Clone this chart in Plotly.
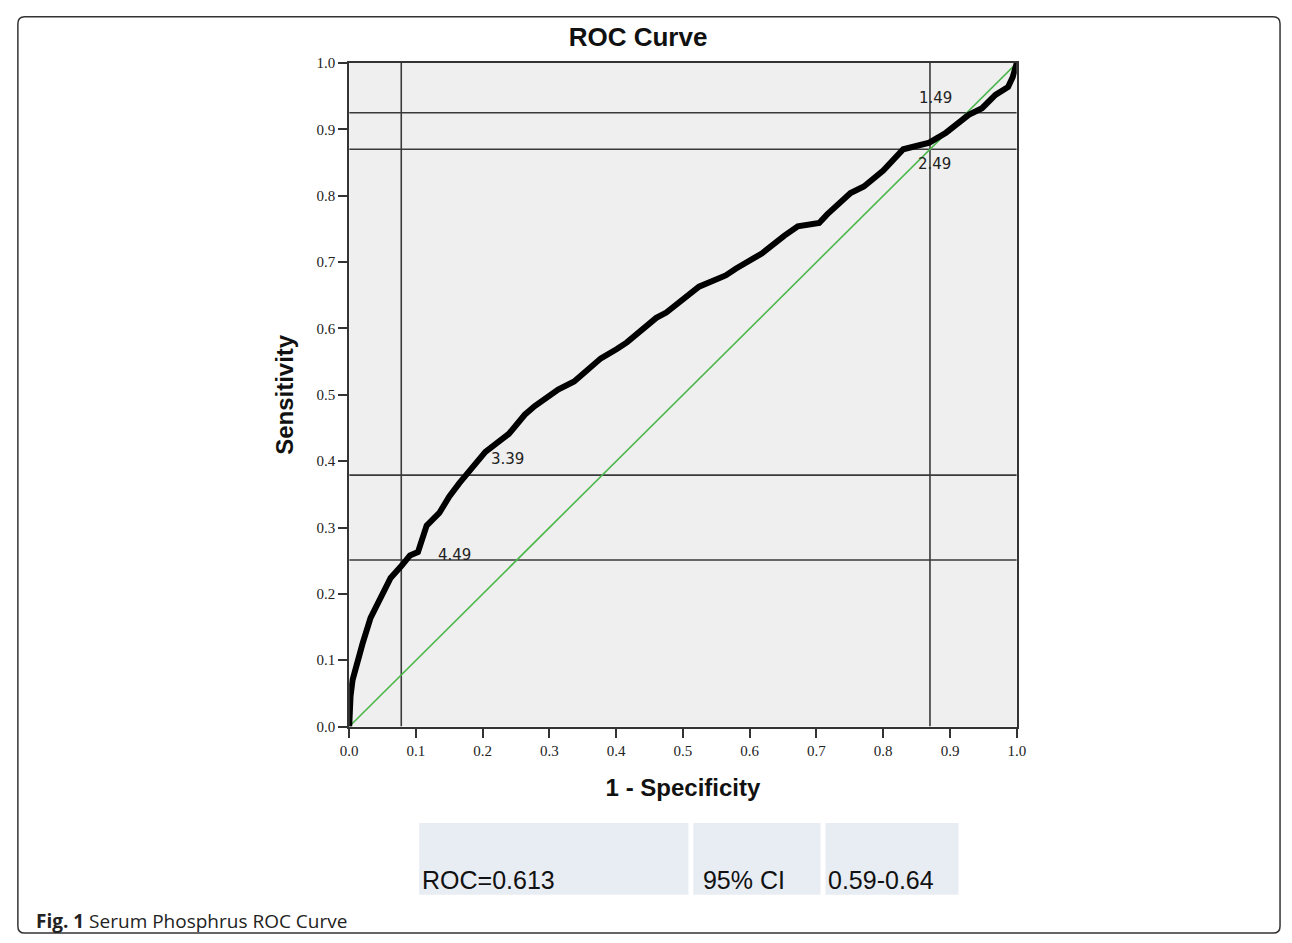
import plotly.graph_objects as go

W, H = 1292, 943

# ---- data ----
fpr = [0.000, 0.000, 0.002, 0.005, 0.010, 0.020, 0.032, 0.042, 0.052, 0.062, 0.079, 0.091,
       0.103, 0.116, 0.135, 0.150, 0.165, 0.180, 0.204, 0.239, 0.263, 0.278, 0.313, 0.337,
       0.355, 0.377, 0.401, 0.416, 0.460, 0.475, 0.524, 0.564, 0.579, 0.618, 0.652, 0.672,
       0.704, 0.716, 0.751, 0.771, 0.800, 0.820, 0.830, 0.869, 0.894, 0.928, 0.948, 0.968,
       0.987, 0.994, 1.000, 1.000]
tpr = [0.000, 0.025, 0.046, 0.070, 0.090, 0.125, 0.164, 0.184, 0.204, 0.224, 0.243, 0.258,
       0.263, 0.303, 0.322, 0.347, 0.367, 0.384, 0.414, 0.441, 0.470, 0.483, 0.508, 0.520,
       0.535, 0.555, 0.569, 0.579, 0.616, 0.624, 0.663, 0.680, 0.690, 0.713, 0.740, 0.754,
       0.759, 0.772, 0.804, 0.814, 0.838, 0.861, 0.870, 0.880, 0.895, 0.922, 0.932, 0.952,
       0.964, 0.979, 0.996, 1.000]
diag_x = [0.0, 1.0]
diag_y = [0.0, 1.0]
cut_fpr = [0.078, 0.870]                 # vertical reference lines
cut_tpr = [0.925, 0.870, 0.379, 0.251]   # horizontal reference lines
cut_labels = ["1.49", "2.49", "3.39", "4.49"]
tick_vals = [0.0, 0.1, 0.2, 0.3, 0.4, 0.5, 0.6, 0.7, 0.8, 0.9, 1.0]
tick_text = ["0.0", "0.1", "0.2", "0.3", "0.4", "0.5", "0.6", "0.7", "0.8", "0.9", "1.0"]
table_cells = ["ROC=0.613", " 95% CI", "0.59-0.64"]
caption_bold = "Fig. 1"
caption_rest = "Serum Phosphrus ROC Curve"
title_text = "ROC Curve"

# ---- helpers for pixel -> paper ----
def px(x):
    return x / W

def py(y):
    return 1 - y / H

fig = go.Figure()

LINE_COL = "#3a3a3a"
for v in cut_fpr:
    fig.add_trace(go.Scatter(x=[v, v], y=[0, 1], mode="lines",
                             line=dict(color=LINE_COL, width=1.6), hoverinfo="skip", showlegend=False))
for h in cut_tpr:
    fig.add_trace(go.Scatter(x=[0, 1], y=[h, h], mode="lines",
                             line=dict(color=LINE_COL, width=1.6), hoverinfo="skip", showlegend=False))

fig.add_trace(go.Scatter(x=diag_x, y=diag_y, mode="lines",
                         line=dict(color="#4cb84c", width=1.6), showlegend=False))
fig.add_trace(go.Scatter(x=fpr, y=tpr, mode="lines",
                         line=dict(color="#000000", width=6), showlegend=False))

# cut-off labels (left edge x, centre y in data units)
label_pos = [(0.851, 0.947), (0.849, 0.848), (0.209, 0.404), (0.130, 0.259)]
for (lx, ly), t in zip(label_pos, cut_labels):
    fig.add_annotation(x=lx, y=ly, xref="x", yref="y", text=t, showarrow=False,
                       xanchor="left", yanchor="middle",
                       font=dict(family="DejaVu Sans", size=15, color="#222222"))

# table cells
cells_px = [(416, 689), (694, 823), (828, 963)]
for (x0, x1), t in zip(cells_px, table_cells):
    fig.add_shape(type="rect", xref="paper", yref="paper",
                  x0=px(x0), x1=px(x1), y0=py(902), y1=py(829),
                  fillcolor="#e8ecf3", line=dict(width=0), layer="below")
    fig.add_annotation(x=px(x0 + 1), y=py(887), xref="paper", yref="paper", text=t,
                       showarrow=False, xanchor="left", yanchor="middle",
                       font=dict(family="Liberation Sans, Arial", size=25, color="#111111"))

# caption
fig.add_annotation(x=px(25), y=py(929), xref="paper", yref="paper",
                   text=f"<b>{caption_bold}</b> {caption_rest}", showarrow=False,
                   xanchor="left", yanchor="middle",
                   font=dict(family="Open Sans, sans-serif", size=19, color="#222222"))

# rounded border
r = 7
x0, x1, y0, y1 = 9, 1289, 9, 941
path = (f"M {px(x0+r)},{py(y0)} L {px(x1-r)},{py(y0)} Q {px(x1)},{py(y0)} {px(x1)},{py(y0+r)} "
        f"L {px(x1)},{py(y1-r)} Q {px(x1)},{py(y1)} {px(x1-r)},{py(y1)} "
        f"L {px(x0+r)},{py(y1)} Q {px(x0)},{py(y1)} {px(x0)},{py(y1-r)} "
        f"L {px(x0)},{py(y0+r)} Q {px(x0)},{py(y0)} {px(x0+r)},{py(y0)} Z")
fig.add_shape(type="path", xref="paper", yref="paper", path=path,
              line=dict(color="#333333", width=1.5), fillcolor="rgba(0,0,0,0)")

axis_common = dict(range=[0, 1], tickvals=tick_vals, ticktext=tick_text,
                   showgrid=False, zeroline=False, showline=True, linecolor="#333333",
                   linewidth=2, mirror=True, ticks="outside", ticklen=9, tickwidth=2,
                   tickcolor="#333333",
                   tickfont=dict(family="Liberation Serif", size=15, color="#222222"))

fig.update_layout(
    width=W, height=H,
    margin=dict(l=0, r=0, t=0, b=0),
    paper_bgcolor="white",
    plot_bgcolor="#efefef",
    title=dict(text=f"<b>{title_text}</b>", x=px(638), y=py(37), xanchor="center", yanchor="middle",
               font=dict(family="Liberation Sans, Arial", size=26, color="#111111")),
    xaxis=dict(domain=[px(345), px(1022)],
               title=dict(text="<b>1 - Specificity</b>", standoff=22,
                          font=dict(family="Liberation Sans, Arial", size=24, color="#111111")),
               **axis_common),
    yaxis=dict(domain=[py(731), py(56)],
               title=dict(text="<b>Sensitivity</b>", standoff=16,
                          font=dict(family="Liberation Sans, Arial", size=24, color="#111111")),
               **axis_common),
)

fig.write_html("out.html",
               config={"displayModeBar": False},
               post_script="document.body.style.margin='0';document.body.style.overflow='hidden';")
